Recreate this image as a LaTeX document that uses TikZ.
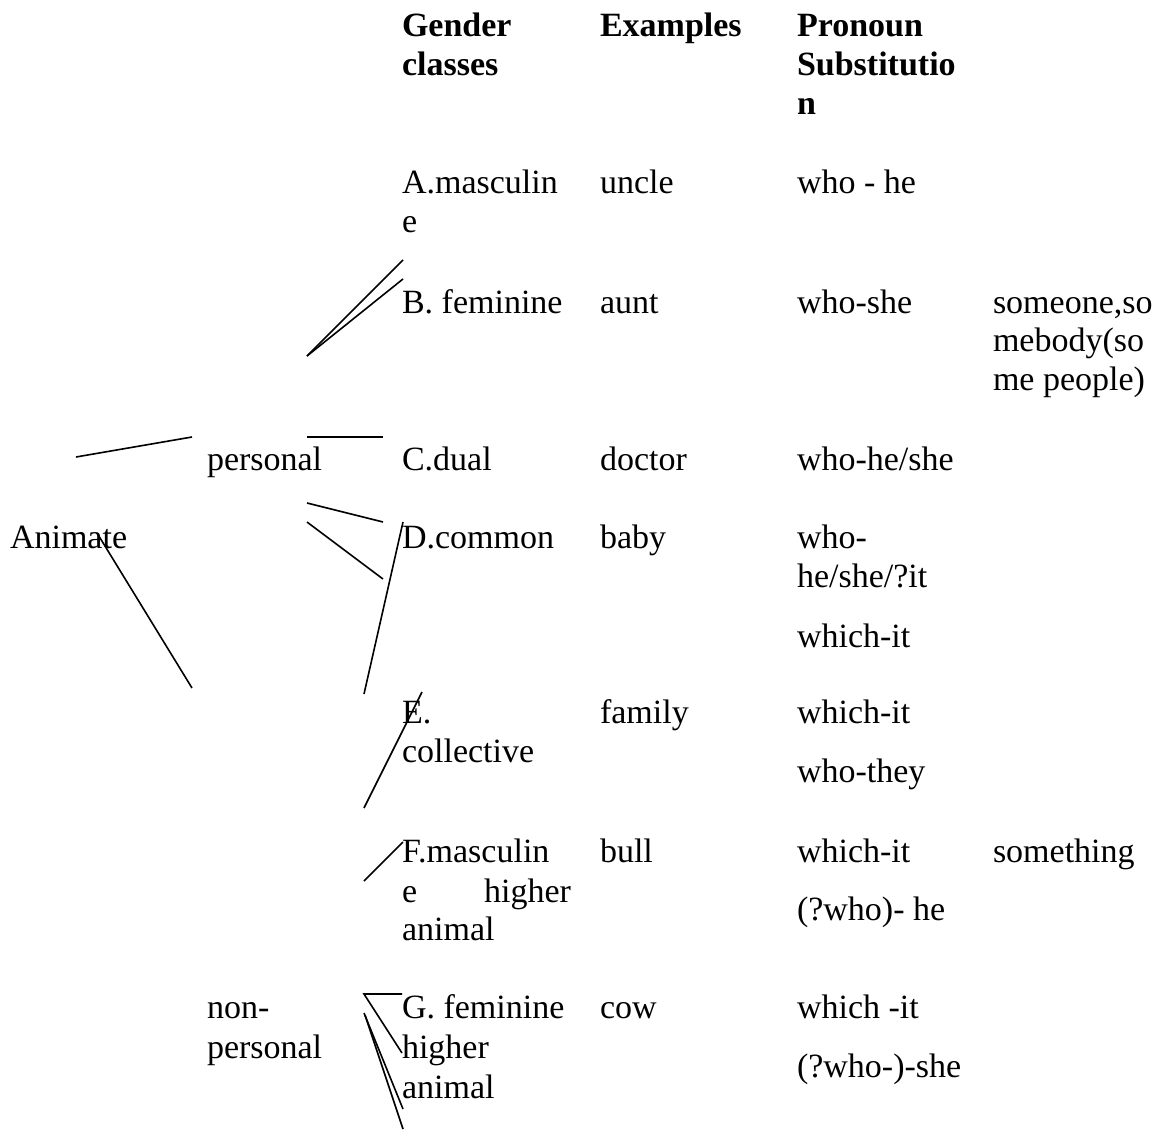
\documentclass[tikz,border=0pt]{standalone}
\usepackage{fontspec}
\setmainfont{Liberation Serif}
\begin{document}
\begin{tikzpicture}[x=1pt,y=-1pt,
  every node/.style={inner sep=0pt,outer sep=0pt,anchor=base west,
    font=\fontsize{34}{38}\selectfont},
  hd/.style={font=\fontsize{34}{38}\selectfont\bfseries},
  branch/.style={line width=1.6pt,line cap=butt}]
\useasboundingbox (0,0) rectangle (1161,1130);

% column headings
\node[hd] (h1a) at (402,36) {Gender};
\node[hd] (h1b) at (402,75) {classes};
\node[hd] (h2)  at (600,36) {Examples};
\node[hd] (h3a) at (797,36) {Pronoun};
\node[hd] (h3b) at (797,75) {Substitutio};
\node[hd] (h3c) at (797,114) {n};

% left-hand categories
\node (anim) at (10,548) {Animate};
\node (pers) at (207,470) {personal};
\node (npa)  at (207,1018) {non-};
\node (npb)  at (207,1058) {personal};

% gender classes
\node (ca1) at (402,193) {A.masculin};
\node (ca2) at (402,232) {e};
\node (cb)  at (402,313) {B. feminine};
\node (cc)  at (402,470) {C.dual};
\node (cd)  at (402,548) {D.common};
\node (ce1) at (402,723) {E.};
\node (ce2) at (402,762) {collective};
\node (cf1) at (402,862) {F.masculin};
\node (cf2) at (402,902) {e};
\node[anchor=base east] (cf3) at (571,902) {higher};
\node (cf4) at (402,940) {animal};
\node (cg1) at (402,1018) {G. feminine};
\node (cg2) at (402,1058) {higher};
\node (cg3) at (402,1098) {animal};

% examples
\node (ea) at (600,193) {uncle};
\node (eb) at (600,313) {aunt};
\node (ec) at (600,470) {doctor};
\node (ed) at (600,548) {baby};
\node (ee) at (600,723) {family};
\node (ef) at (600,862) {bull};
\node (eg) at (600,1018) {cow};

% pronoun substitution
\node (pa)  at (797,193) {who - he};
\node (pb)  at (797,313) {who-she};
\node (pc)  at (797,470) {who-he/she};
\node (pd1) at (797,548) {who-};
\node (pd2) at (797,587) {he/she/?it};
\node (pd3) at (797,647) {which-it};
\node (pe1) at (797,723) {which-it};
\node (pe2) at (797,782) {who-they};
\node (pf1) at (797,862) {which-it};
\node (pf2) at (797,920) {(?who)- he};
\node (pg1) at (797,1018) {which -it};
\node (pg2) at (797,1077) {(?who-)-she};

% indefinite forms
\node (sa) at (993,313) {someone,so};
\node (sb) at (993,351) {mebody(so};
\node (sc) at (993,390) {me people)};
\node (sd) at (993,862) {something};

% branch end points
\coordinate (a1) at (76,457);   \coordinate (a2) at (192,437);
\coordinate (a3) at (97,533);   \coordinate (a4) at (192,688);
\coordinate (b0) at (307,356);
\coordinate (b1) at (403,260);  \coordinate (b2) at (403,279);
\coordinate (c1) at (307,437);  \coordinate (c2) at (383,437);
\coordinate (d1) at (307,503);  \coordinate (d2) at (383,522);
\coordinate (d3) at (307,522);  \coordinate (d4) at (383,579);
\coordinate (d5) at (403,522);  \coordinate (d6) at (364,694);
\coordinate (e1) at (422,692);  \coordinate (e2) at (364,808);
\coordinate (f1) at (403,842);  \coordinate (f2) at (364,881);
\coordinate (g0) at (364,994);  \coordinate (g1) at (402,994);
\coordinate (g2) at (402,1053);
\coordinate (g3) at (364,1013); \coordinate (g4) at (403,1109);
\coordinate (g5) at (365,1015); \coordinate (g6) at (403,1129);

% branch strokes
\draw[branch] (a1) -- (a2);
\draw[branch] (a3) -- (a4);
\draw[branch] (b0) -- (b1);
\draw[branch] (b0) -- (b2);
\draw[branch] (c1) -- (c2);
\draw[branch] (d1) -- (d2);
\draw[branch] (d3) -- (d4);
\draw[branch] (d5) -- (d6);
\draw[branch] (e1) -- (e2);
\draw[branch] (f1) -- (f2);
\draw[branch] (g1) -- (g0) -- (g2);
\draw[branch] (g3) -- (g4);
\draw[branch] (g5) -- (g6);
\end{tikzpicture}
\end{document}
